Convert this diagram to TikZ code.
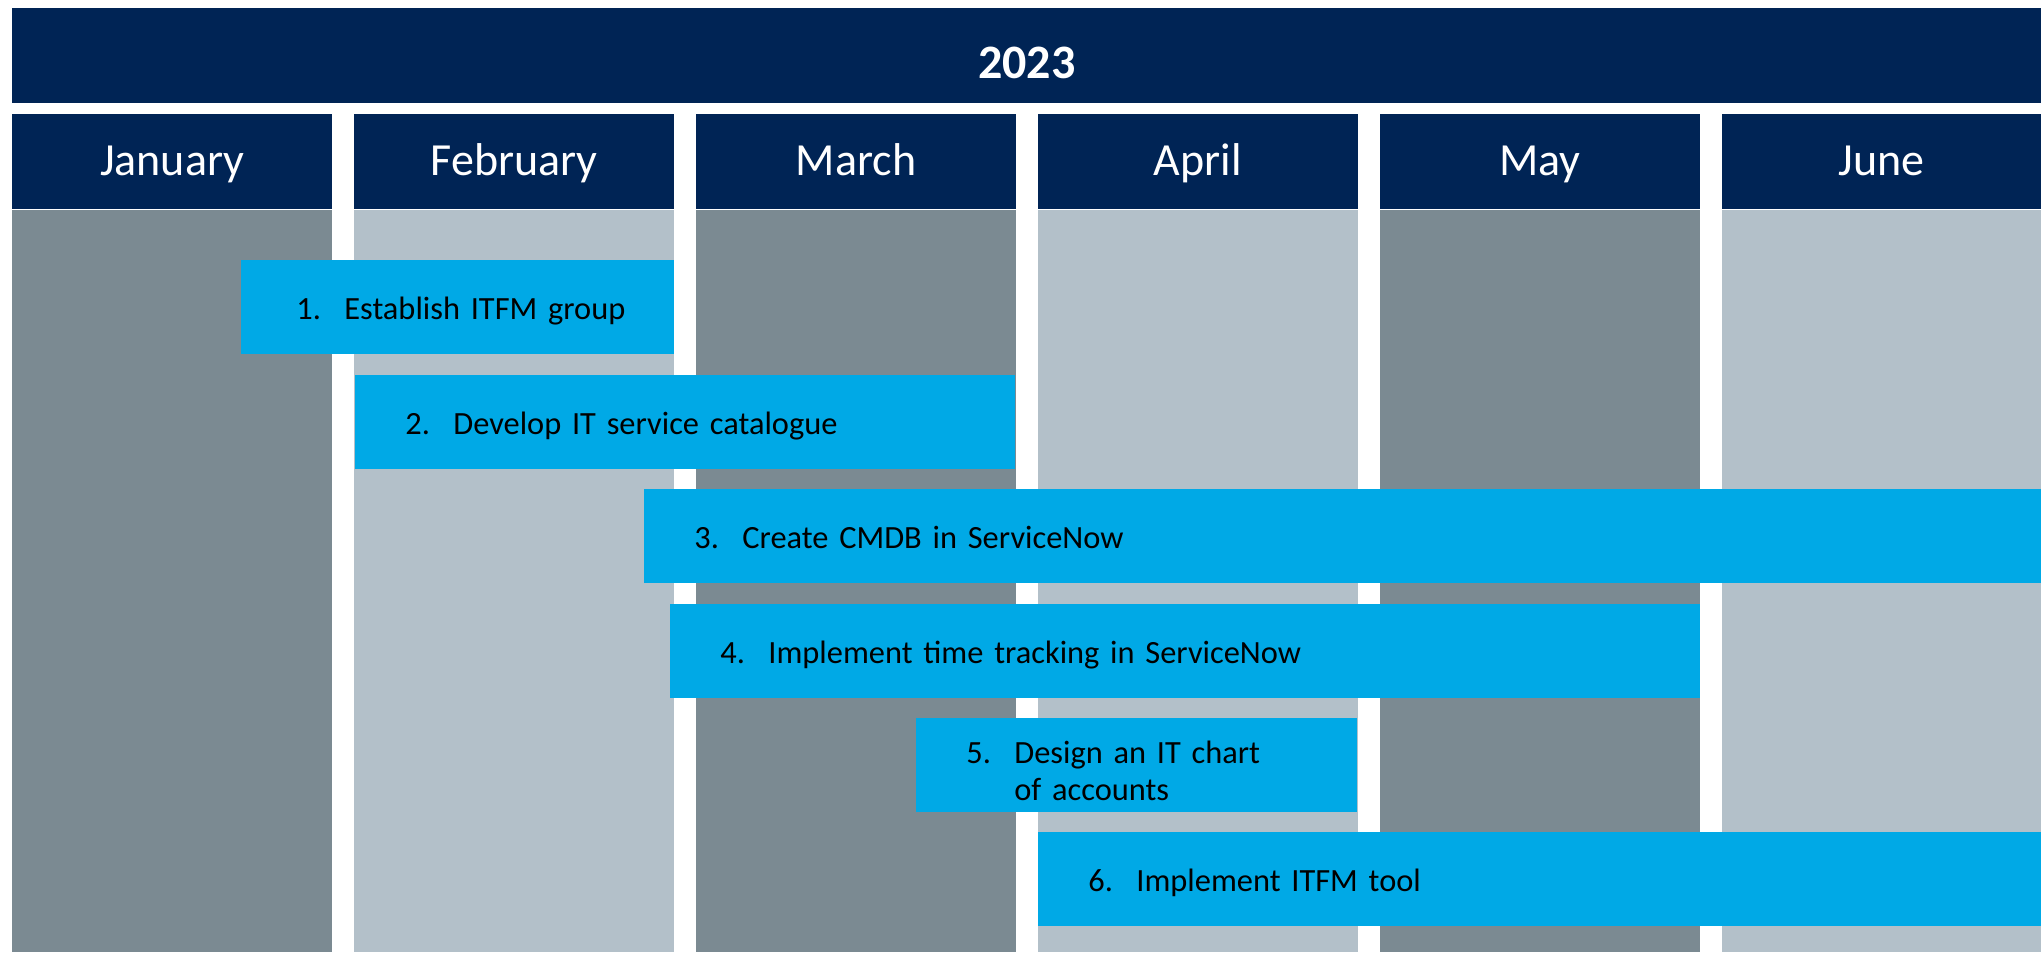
\documentclass[tikz,border=0pt]{standalone}
\usepackage{fontspec}
\setmainfont{Carlito}
\newfontfamily\taskfont[WordSpace=0.7]{Carlito}
\usetikzlibrary{positioning}

\definecolor{navy}{HTML}{002455}
\definecolor{slatedark}{HTML}{7B8A92}
\definecolor{slatelight}{HTML}{B3C0C9}
\definecolor{barblue}{HTML}{00A9E6}

% number, then the (possibly two-line) task text hanging after it
\newcommand{\tasklabel}[2]{\makebox[24pt][l]{#1.}\begin{tabular}[t]{@{}l@{}}#2\end{tabular}}

\begin{document}
\begin{tikzpicture}[x=0.5pt, y=-0.5pt,
    yearbar/.style={%
      rectangle, fill=navy, text=white, anchor=north west,
      minimum width=1014.5pt, minimum height=47.5pt, inner sep=0pt,
      text height=22.5pt, text depth=0pt,
      font=\fontsize{24}{28}\selectfont\bfseries
    },
    monthhead/.style={%
      rectangle, fill=navy, text=white, anchor=north west,
      minimum width=159.75pt, minimum height=47.5pt, inner sep=0pt,
      text height=13.7pt, text depth=0pt,
      font=\fontsize{23}{27}\selectfont
    },
    monthbody/.style={%
      rectangle, minimum width=159.75pt, minimum height=371pt, inner sep=0pt
    },
    task/.style={%
      rectangle, fill=barblue, anchor=north west,
      minimum height=47pt, inner xsep=25pt, inner ysep=0pt, align=left,
      text height=12.5pt, text depth=0pt,
      font=\taskfont\fontsize{16.2}{18.5}\selectfont
    }
]
    \path[use as bounding box, fill=white] (0,0) rectangle (2044,969);

    \node[yearbar] (year) at (12,8) {2023};

    % month columns, dark and light in turn
    \foreach \m/\shade [count=\i] in {January/slatedark, February/slatelight,
        March/slatedark, April/slatelight, May/slatedark, June/slatelight} {
      \node[monthhead] (h\i) at ({12+(\i-1)*341.9}, 114) {\m};
      \node[monthbody, fill=\shade] (c\i) [below = 0pt of h\i] {};
    }

    % tasks
    \node[task, inner xsep=27.5pt, text width=161.5pt] (t1) at (241,260)
      {\tasklabel{1}{Establish ITFM group}};
    \node[task, text width=280pt]   (t2) at (355,375)
      {\tasklabel{2}{Develop IT service catalogue}};
    \node[task, text width=648.5pt] (t3) at (644,489)
      {\tasklabel{3}{Create CMDB in ServiceNow}};
    \node[task, text width=465pt]   (t4) at (670,604)
      {\tasklabel{4}{Implement time tracking in ServiceNow}};
    \node[task, text width=170.5pt, text height=12pt, text depth=14pt] (t5) at (916,718)
      {\tasklabel{5}{Design an IT chart\\of accounts}};
    \node[task, text width=451.5pt] (t6) at (1038,832)
      {\tasklabel{6}{Implement ITFM tool}};

\end{tikzpicture}
\end{document}
